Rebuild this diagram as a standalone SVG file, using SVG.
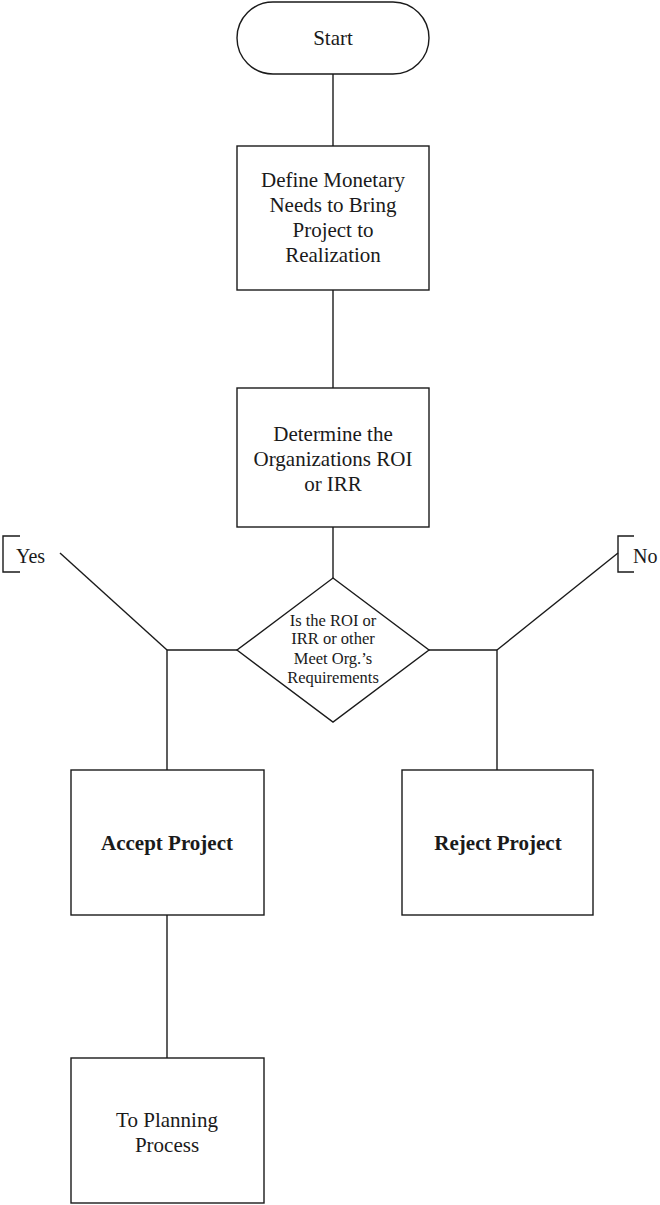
<svg xmlns="http://www.w3.org/2000/svg" width="660" height="1205" viewBox="0 0 660 1205">
  <style>
    .shape { fill: #fff; stroke: #1a1a1a; stroke-width: 1.4; }
    .wire { fill: none; stroke: #1a1a1a; stroke-width: 1.4; }
    .lbl { font-family: "Liberation Serif", "DejaVu Serif", serif; font-size: 21px; fill: #1a1a1a; text-anchor: middle; }
    .small { font-size: 16.5px; }
    .bold { font-weight: bold; }
    .side { text-anchor: start; font-size: 20px; }
  </style>
  <rect width="660" height="1205" fill="#fff"/>

  <!-- connectors -->
  <g id="connectors">
    <line class="wire" x1="333" y1="74" x2="333" y2="146"/>
    <line class="wire" x1="333" y1="290" x2="333" y2="388"/>
    <line class="wire" x1="333" y1="527" x2="333" y2="578"/>
    <!-- yes branch -->
    <polyline class="wire" points="237,650 167,650 167,770"/>
    <line class="wire" x1="167" y1="650" x2="60" y2="553"/>
    <polyline class="wire" points="20,536 3,536 3,572 20,572"/>
    <!-- no branch -->
    <polyline class="wire" points="429,650 497,650 497,770"/>
    <line class="wire" x1="497" y1="650" x2="618" y2="553"/>
    <polyline class="wire" points="634,536 618,536 618,572 634,572"/>
    <line class="wire" x1="167" y1="915" x2="167" y2="1058"/>
  </g>

  <g id="yes-label">
    <text class="lbl side" x="16" y="563">Yes</text>
  </g>
  <g id="no-label">
    <text class="lbl side" x="633" y="563">No</text>
  </g>

  <g id="start">
    <rect class="shape" x="237" y="2" width="192" height="72" rx="36" ry="36"/>
    <text class="lbl" x="333" y="45">Start</text>
  </g>

  <g id="define-needs">
    <rect class="shape" x="237" y="146" width="192" height="144"/>
    <text class="lbl" x="333" y="187">Define Monetary</text>
    <text class="lbl" x="333" y="212">Needs to Bring</text>
    <text class="lbl" x="333" y="237">Project to</text>
    <text class="lbl" x="333" y="262">Realization</text>
  </g>

  <g id="determine-roi">
    <rect class="shape" x="237" y="388" width="192" height="139"/>
    <text class="lbl" x="333" y="441">Determine the</text>
    <text class="lbl" x="333" y="466">Organizations ROI</text>
    <text class="lbl" x="333" y="491">or IRR</text>
  </g>

  <g id="decision">
    <polygon class="shape" points="333,578 429,650 333,722 237,650"/>
    <text class="lbl small" x="333" y="626">Is the ROI or</text>
    <text class="lbl small" x="333" y="644">IRR or other</text>
    <text class="lbl small" x="333" y="664">Meet Org.’s</text>
    <text class="lbl small" x="333" y="683">Requirements</text>
  </g>

  <g id="accept">
    <rect class="shape" x="71" y="770" width="193" height="145"/>
    <text class="lbl bold" x="167" y="850">Accept Project</text>
  </g>

  <g id="reject">
    <rect class="shape" x="402" y="770" width="191" height="145"/>
    <text class="lbl bold" x="498" y="850">Reject Project</text>
  </g>

  <g id="planning">
    <rect class="shape" x="71" y="1058" width="193" height="145"/>
    <text class="lbl" x="167" y="1127">To Planning</text>
    <text class="lbl" x="167" y="1152">Process</text>
  </g>
</svg>
